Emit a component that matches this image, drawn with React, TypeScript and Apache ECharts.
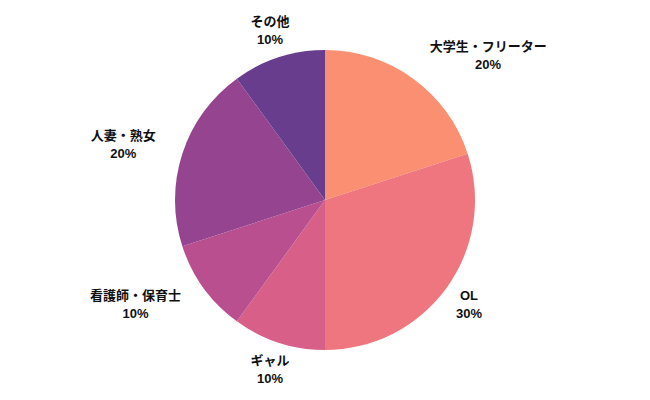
import React, { useEffect, useRef } from "react";
import * as echarts from "echarts";

const categories = ["大学生・フリーター", "OL", "ギャル", "看護師・保育士", "人妻・熟女", "その他"];
const values = [20, 30, 10, 10, 20, 10];

const COLORS = ["#FA8F71", "#EF767E", "#D75F88", "#B94F8E", "#95448F", "#683D8D"];
const LABEL_ALIGN = ["left", "center", "center", "right", "right", "center"];
const FONT = "'Liberation Sans', Arial, 'Noto Sans CJK JP', sans-serif";

export default function App() {
  const ref = useRef<HTMLDivElement>(null);
  useEffect(() => {
    if (!ref.current) return;
    const chart = echarts.init(ref.current, null, { renderer: "svg" });
    const txt = {
      fontFamily: FONT,
      fontWeight: "bold",
      fontSize: 13,
      lineHeight: 18,
      color: "#111",
      align: "center",
    };
    chart.setOption({
      animation: false,
      color: COLORS,
      series: [
        {
          type: "pie",
          center: [325, 200],
          radius: 150,
          startAngle: 90,
          clockwise: true,
          avoidLabelOverlap: false,
          data: categories.map((name, i) => ({ name, value: values[i] })),
          label: {
            show: true,
            position: "outside",
            formatter: "{n|{b}}\n{n|{c}%}",
            ...txt,
            rich: { n: { ...txt } },
            distanceToLabelLine: 0,
          },
          labelLine: { show: false, length: 28, length2: 0 },
          labelLayout: (p: any) => ({ align: LABEL_ALIGN[p.dataIndex], verticalAlign: "middle" }),
          itemStyle: { borderWidth: 0 },
          emphasis: { disabled: true },
        },
      ],
    });
    return () => chart.dispose();
  }, []);
  return <div ref={ref} style={{ width: 650, height: 400, position: "absolute", left: 0, top: 0 }} />;
}
